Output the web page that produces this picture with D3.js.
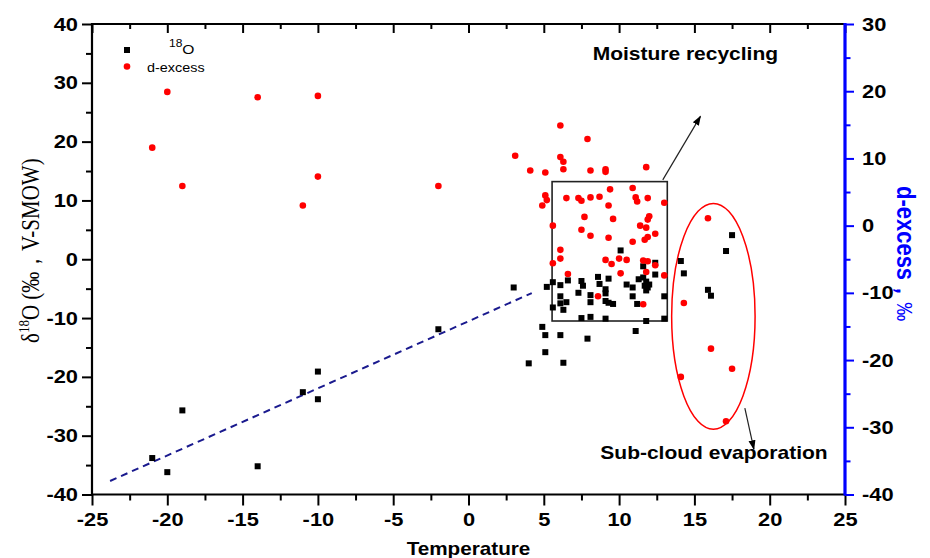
<!DOCTYPE html>
<html>
<head>
<meta charset="utf-8">
<style>
  body { margin: 0; background: #fff; }
  svg { display: block; }
</style>
</head>
<body>
<svg width="930" height="558"></svg>
<script src="https://d3js.org/d3.v7.min.js"></script>
<script>

// ---- data ----
// delta 18O (left axis) : [temperature, value]
var o18Points = [
  [-21, -33.8], [-20, -36.2], [-19, -25.7], [-14, -35.2], [-11, -22.6], [-10, -19.1], [-10, -23.8], [-2, -11.9],
  [3.0, -4.8], [5.2, -4.7], [5.6, -3.9], [6.1, -4.4], [6.6, -3.6], [7.5, -3.7], [7.6, -4.5], [7.3, -5.7],
  [6.1, -6.3], [6.1, -7.5], [6.5, -7.3], [6.3, -8.6], [5.6, -8.2], [7.5, -10.0], [4.9, -11.5], [5.1, -12.9],
  [6.1, -12.9], [5.1, -15.8], [4.0, -17.7], [6.3, -17.6],
  [10.1, 1.5], [11.6, -1.2], [12.4, -0.6], [12.4, -2.6], [8.6, -3.0], [9.3, -3.3], [8.7, -4.2], [10.5, -4.3],
  [10.9, -4.8], [11.3, -3.4], [11.6, -3.1], [11.8, -3.8], [12.0, -4.3], [11.7, -4.5], [11.9, -4.8], [11.8, -5.3],
  [9.1, -5.1], [9.1, -5.8], [8.1, -6.1], [10.9, -6.3], [8.1, -7.3], [9.1, -7.1], [9.3, -7.4], [9.6, -7.6],
  [11.2, -7.6], [13.0, -6.3], [8.1, -9.8], [9.1, -10.1], [11.8, -10.5], [13.0, -10.1], [11.1, -12.2], [7.9, -13.5],
  [17.5, 4.1], [17.1, 1.4], [14.1, -0.3], [14.3, -2.4], [15.9, -5.2], [16.1, -6.2]
];

// d-excess (right axis) : [temperature, value]
var dexPoints = [
  [-20, 19.9], [-21, 11.6], [-19, 5.9], [-14, 19.1], [-10, 19.3], [-10, 7.3], [-11, 3.0], [-2, 5.9],
  [6.1, 14.9], [7.9, 12.9], [3.1, 10.4], [6.1, 10.2], [6.3, 9.5], [6.3, 8.4], [4.1, 8.2], [5.1, 7.9],
  [5.1, 4.5], [5.2, 3.8], [4.9, 3.0], [6.5, 4.1], [7.3, 4.1], [7.5, 3.7], [7.7, 1.3], [5.6, 0.0],
  [7.5, -0.6], [6.1, -3.6], [8.1, 8.2], [9.1, 8.4], [9.1, 8.0], [11.8, 8.7], [9.4, 5.4], [10.9, 5.6],
  [8.1, 4.2], [8.7, 4.3], [11.1, 4.2], [11.2, 3.6], [11.9, 4.1], [13.0, 3.4], [9.3, 3.0], [9.6, 1.0],
  [12.0, 1.4], [11.9, 0.9], [11.4, 0.0], [11.8, -0.3], [8.1, -1.5], [9.3, -1.8], [12.4, -1.2], [11.9, -1.7],
  [11.7, -2.1], [10.9, -2.4],
  [6.1, -4.9], [5.6, -5.6], [6.6, -7.2], [9.1, -5.1], [9.5, -5.7], [10.0, -4.9], [10.5, -5.1], [11.6, -5.2],
  [11.9, -5.3], [12.4, -5.9], [10.1, -7.1], [11.8, -6.9], [13.0, -7.4], [8.6, -10.5], [11.6, -11.7],
  [15.9, 1.1], [14.3, -11.5], [16.1, -18.3], [17.5, -21.3], [14.1, -22.5], [17.1, -29.1]
];

// dashed trend line of the cold samples (left axis units)
var trendLine = [[-23.8, -37.7], [4.2, -5.75]];

// "Moisture recycling" box and "Sub-cloud evaporation" ellipse, in data units (left axis)
var recycleBox = {x0: 5.55, x1: 13.2, y0: -10.5, y1: 13.2};
var evapEllipse = {cx: 16.26, cy: -9.7, rx: 2.77, ry: 19.2};
var recycleArrow = [[12.9, 13.5], [15.4, 24.3]];
var evapArrow = [[18.35, -25.3], [18.95, -32.3]];

var xTicks = d3.range(-25, 26, 5);
var xMinor = d3.range(-22.5, 25, 5);
var yLeftTicks = d3.range(-40, 41, 10);
var yLeftMinor = d3.range(-35, 40, 10);
var yRightTicks = d3.range(-40, 31, 10);
var yRightMinor = d3.range(-35, 30, 10);

var labels = {
  x: "Temperature",
  recycle: "Moisture recycling",
  evap: "Sub-cloud evaporation",
  legendO: "O",
  legendD: "d-excess"
};

// ---- layout ----
var svg = d3.select("svg"),
  margin = {top: 24, right: 85, bottom: 63.5, left: 92},
  width = +svg.attr("width") - margin.left - margin.right,
  height = +svg.attr("height") - margin.top - margin.bottom,
  g = svg.append("g").attr("transform", "translate(" + margin.left + "," + margin.top + ")");

var stretch = 1.15;   // the original figure is widened, text looks wide
var sans = "'Liberation Sans', Arial, sans-serif";
var blue = "#0000ff";
var plain = function(d) { return String(d); };   // hyphen minus, as in the figure

var x = d3.scaleLinear().domain([-25, 25]).range([0, width]),
  yL = d3.scaleLinear().domain([-40, 40]).range([height, 0]),
  yR = d3.scaleLinear().domain([-40, 30]).range([height, 0]);

function tidy(axis, color, w) {
  axis.select(".domain").remove();
  axis.selectAll(".tick line").attr("stroke", color).attr("stroke-width", w);
  axis.attr("font-family", sans).attr("font-size", 19).attr("font-weight", "bold");
  axis.selectAll("text").attr("fill", "#000");
}

// bottom axis
var xAxis = g.append("g").attr("transform", "translate(0," + height + ")")
  .call(d3.axisBottom(x).tickValues(xTicks).tickFormat(plain).tickSize(11).tickPadding(7).tickSizeOuter(0));
tidy(xAxis, "#000", 2);
xAxis.selectAll("text").attr("transform", "scale(" + stretch + ",1)");
var xAxisMinor = g.append("g").attr("transform", "translate(0," + height + ")")
  .call(d3.axisBottom(x).tickValues(xMinor).tickSize(6).tickFormat("").tickSizeOuter(0));
tidy(xAxisMinor, "#000", 2);

// top axis (ticks inward, no labels)
var topAxis = g.append("g")
  .call(d3.axisBottom(x).tickValues(xTicks).tickSize(9).tickFormat("").tickSizeOuter(0));
tidy(topAxis, "#000", 2);
var topMinor = g.append("g")
  .call(d3.axisBottom(x).tickValues(xMinor).tickSize(5).tickFormat("").tickSizeOuter(0));
tidy(topMinor, "#000", 2);

// left axis
var yAxisL = g.append("g")
  .call(d3.axisLeft(yL).tickValues(yLeftTicks).tickFormat(plain).tickSize(10).tickSizeOuter(0));
tidy(yAxisL, "#000", 2);
yAxisL.selectAll("text").attr("x", -14 / stretch).attr("transform", "scale(" + stretch + ",1)");
var yAxisLMinor = g.append("g")
  .call(d3.axisLeft(yL).tickValues(yLeftMinor).tickSize(6).tickFormat("").tickSizeOuter(0));
tidy(yAxisLMinor, "#000", 2);

// frame lines
g.append("line").attr("x1", 0).attr("x2", width).attr("y1", height).attr("y2", height)
  .attr("stroke", "#000").attr("stroke-width", 2.2);
g.append("line").attr("x1", 0).attr("x2", width).attr("y1", 0).attr("y2", 0)
  .attr("stroke", "#000").attr("stroke-width", 2.2);
g.append("line").attr("x1", 0).attr("x2", 0).attr("y1", -1).attr("y2", height + 1)
  .attr("stroke", "#000").attr("stroke-width", 2.2);

// right axis (blue)
var yAxisR = g.append("g").attr("transform", "translate(" + width + ",0)")
  .call(d3.axisRight(yR).tickValues(yRightTicks).tickFormat(plain).tickSize(9).tickSizeOuter(0));
tidy(yAxisR, blue, 2);
yAxisR.selectAll("text").attr("x", 17 / stretch).attr("transform", "scale(" + stretch + ",1)");
var yAxisRMinor = g.append("g").attr("transform", "translate(" + width + ",0)")
  .call(d3.axisRight(yR).tickValues(yRightMinor).tickSize(5.5).tickFormat("").tickSizeOuter(0));
tidy(yAxisRMinor, blue, 2);
g.append("line").attr("x1", width).attr("x2", width).attr("y1", -1).attr("y2", height + 1)
  .attr("stroke", blue).attr("stroke-width", 3.2);

// axis titles
g.append("text")
  .attr("transform", "translate(" + (width / 2) + "," + (height + 60) + ") scale(" + stretch + ",1)")
  .attr("text-anchor", "middle")
  .style("font-family", sans).style("font-size", "18px").style("font-weight", "bold")
  .text(labels.x);

var yTitle = svg.append("text")
  .attr("transform", "translate(39,343) scale(1.2,1) rotate(-90)")
  .attr("text-anchor", "start")
  .style("font-family", "'Liberation Serif', 'Times New Roman', serif")
  .style("font-size", "21px");
yTitle.append("tspan").text("δ");
yTitle.append("tspan").attr("dy", -8).style("font-size", "13px").text("18");
yTitle.append("tspan").attr("dy", 8).text("O (‰，V-SMOW)");

var rTitle = svg.append("text")
  .attr("transform", "translate(897,186) scale(1.15,1) rotate(90)")
  .attr("fill", blue)
  .style("font-family", sans).style("font-size", "22px");
rTitle.append("tspan").style("font-weight", "bold").text("d-excess，");
rTitle.append("tspan").style("font-size", "19px").text("‰");

// trend line
var line = d3.line()
  .x(function(d) { return x(d[0]); })
  .y(function(d) { return yL(d[1]); });

g.append("path")
  .datum(trendLine)
  .attr("fill", "none")
  .attr("stroke", "#1a1a8e")
  .attr("stroke-width", 2)
  .attr("stroke-dasharray", "7,5")
  .attr("d", line);

// arrow head
var defs = svg.append("defs");
defs.append("marker")
  .attr("id", "head")
  .attr("viewBox", "0 0 10 10")
  .attr("refX", 9).attr("refY", 5)
  .attr("markerWidth", 10).attr("markerHeight", 10)
  .attr("markerUnits", "userSpaceOnUse")
  .attr("orient", "auto")
  .append("path").attr("d", "M0,1.5L10,5L0,8.5Z").attr("fill", "#000");

// box + arrow
g.append("rect")
  .attr("x", x(recycleBox.x0)).attr("y", yL(recycleBox.y1))
  .attr("width", x(recycleBox.x1) - x(recycleBox.x0))
  .attr("height", yL(recycleBox.y0) - yL(recycleBox.y1))
  .attr("fill", "none").attr("stroke", "#222").attr("stroke-width", 1.6);

g.append("path")
  .datum(recycleArrow)
  .attr("fill", "none").attr("stroke", "#222").attr("stroke-width", 1.2)
  .attr("marker-end", "url(#head)")
  .attr("d", line);

// ellipse + arrow
g.append("ellipse")
  .attr("cx", x(evapEllipse.cx)).attr("cy", yL(evapEllipse.cy))
  .attr("rx", x(evapEllipse.cx + evapEllipse.rx) - x(evapEllipse.cx))
  .attr("ry", yL(evapEllipse.cy - evapEllipse.ry) - yL(evapEllipse.cy))
  .attr("fill", "none").attr("stroke", "#ff0000").attr("stroke-width", 1.5);

g.append("path")
  .datum(evapArrow)
  .attr("fill", "none").attr("stroke", "#222").attr("stroke-width", 1.2)
  .attr("marker-end", "url(#head)")
  .attr("d", line);

// points
g.selectAll(".o18")
  .data(o18Points)
  .enter().append("rect")
  .attr("class", "o18")
  .attr("x", function(d) { return x(d[0]) - 3; })
  .attr("y", function(d) { return yL(d[1]) - 3; })
  .attr("width", 6).attr("height", 6)
  .attr("fill", "#000");

g.selectAll(".dex")
  .data(dexPoints)
  .enter().append("circle")
  .attr("class", "dex")
  .attr("cx", function(d) { return x(d[0]); })
  .attr("cy", function(d) { return yR(d[1]); })
  .attr("r", 3.3)
  .attr("fill", "#ff0000");

// annotations
g.append("text")
  .attr("transform", "translate(" + x(14.4) + "," + yL(33.9) + ") scale(1.2,1)")
  .attr("text-anchor", "middle")
  .style("font-family", sans).style("font-size", "17.5px").style("font-weight", "bold")
  .text(labels.recycle);

g.append("text")
  .attr("transform", "translate(" + x(16.3) + "," + yL(-33.9) + ") scale(1.2,1)")
  .attr("text-anchor", "middle")
  .style("font-family", sans).style("font-size", "17.5px").style("font-weight", "bold")
  .text(labels.evap);

// legend
var legend = svg.append("g").attr("transform", "translate(127,50)");
legend.append("rect").attr("x", -3).attr("y", -3).attr("width", 6).attr("height", 6).attr("fill", "#000");
legend.append("circle").attr("cx", 0).attr("cy", 16.5).attr("r", 3.3).attr("fill", "#ff0000");
var legO = legend.append("text")
  .attr("transform", "translate(42,4) scale(1.2,1)")
  .style("font-family", sans).style("font-size", "13px");
legO.append("tspan").attr("dy", -7).style("font-size", "10px").text("18");
legO.append("tspan").attr("dy", 7).text(labels.legendO);
legend.append("text")
  .attr("transform", "translate(20,22) scale(1.2,1)")
  .style("font-family", sans).style("font-size", "12px")
  .text(labels.legendD);

</script>
</body>
</html>
